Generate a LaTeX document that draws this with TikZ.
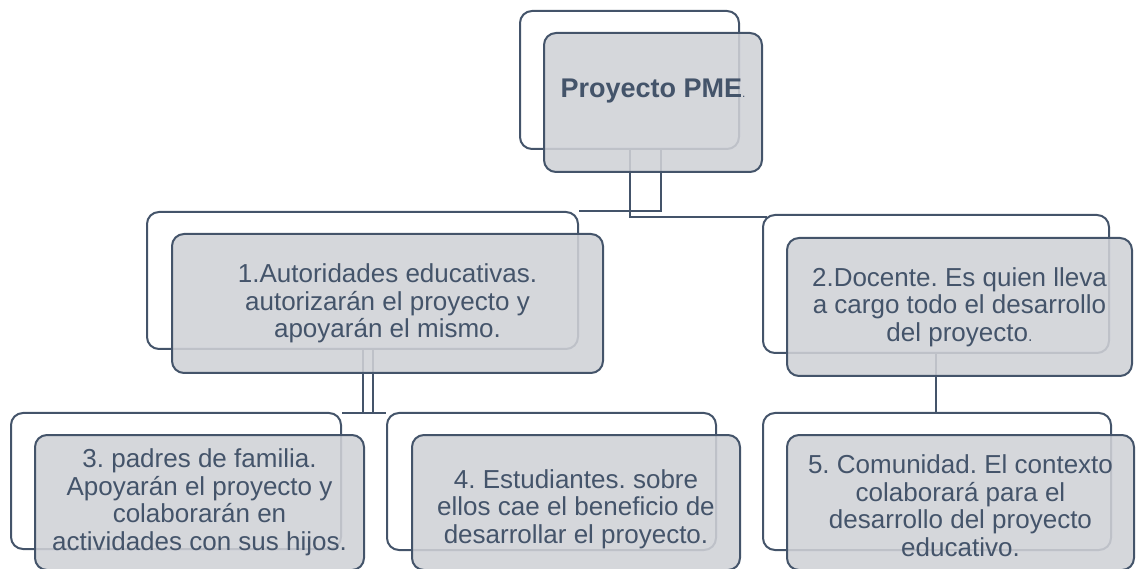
\documentclass[tikz,border=0pt]{standalone}
\usepackage{fontspec}
\setmainfont{Liberation Sans}
\frenchspacing
\definecolor{slate}{HTML}{44546A}
\definecolor{boxfill}{HTML}{CFD1D6}
\begin{document}
\frenchspacing
\begin{tikzpicture}[x=1pt,y=-1pt,
  backbox/.style={draw=slate, line width=2pt, rounded corners=12pt, rectangle, inner sep=0pt},
  frontbox/.style={draw=slate, line width=2pt, rounded corners=12pt, rectangle, fill=boxfill, fill opacity=0.88, text opacity=1, text=slate, align=center, inner sep=0pt, font=\fontsize{26}{27.5}\selectfont\frenchspacing},
  link/.style={draw=slate, line width=2pt}]
\useasboundingbox (0,0) rectangle (1136,569);
\clip (0,0) rectangle (1136,569);
% back boxes
\node[backbox, minimum width=219pt, minimum height=138pt] (b0) at (629.5,80) {};
\node[backbox, minimum width=431pt, minimum height=137pt] (b1) at (362.5,280.5) {};
\node[backbox, minimum width=346pt, minimum height=138pt] (b2) at (936,284) {};
\node[backbox, minimum width=330pt, minimum height=136pt] (b3) at (176,481) {};
\node[backbox, minimum width=329pt, minimum height=137pt] (b4) at (551.5,481.5) {};
\node[backbox, minimum width=348pt, minimum height=137pt] (b5) at (937,481.5) {};
% connectors
\draw[link] (b0.south) |- ([xshift=5pt,yshift=-3pt]b2.north west);
\draw[link] ([xshift=31pt]b0.south) |- (b1.north east);
\draw[link] (b1.south) |- ([yshift=-1pt]b4.north west);
\draw[link] ([xshift=10pt]b1.south) |- ([yshift=-1pt]b3.north east);
\draw[link] (b2.south) -- (b2.south |- b5.north);
% front boxes
\node[frontbox, minimum width=218pt, minimum height=139pt, font=\fontsize{27}{31}\selectfont] (f0) at (653,102.5) {\rule{0pt}{30pt}\textbf{Proyecto PME}{\fontsize{12}{14}\selectfont .}\\ \strut};
\node[frontbox, minimum width=431pt, minimum height=139pt] (f1) at (387.5,303.5) {1.Autoridades educativas.\\ autorizarán el proyecto y\\ apoyarán el mismo.};
\node[frontbox, minimum width=345pt, minimum height=138pt] (f2) at (959.5,307) {2.Docente. Es quien lleva\\ a cargo todo el desarrollo\\ del proyecto{\fontsize{16}{18}\selectfont .}};
\node[frontbox, minimum width=329pt, minimum height=135pt] (f3) at (199.5,502.5) {3. padres de familia.\\ Apoyarán el proyecto y\\ colaborarán en\\ actividades con sus hijos.};
\node[frontbox, minimum width=328pt, minimum height=135pt] (f4) at (576,502.5) {\rule{0pt}{32pt}4. Estudiantes. sobre\\ ellos cae el beneficio de\\ desarrollar el proyecto.};
\node[frontbox, minimum width=347pt, minimum height=135pt] (f5) at (960.5,502.5) {\rule{0pt}{25pt}5. Comunidad. El contexto\\ colaborará para el\\ desarrollo del proyecto\\ educativo.};
\end{tikzpicture}
\end{document}
